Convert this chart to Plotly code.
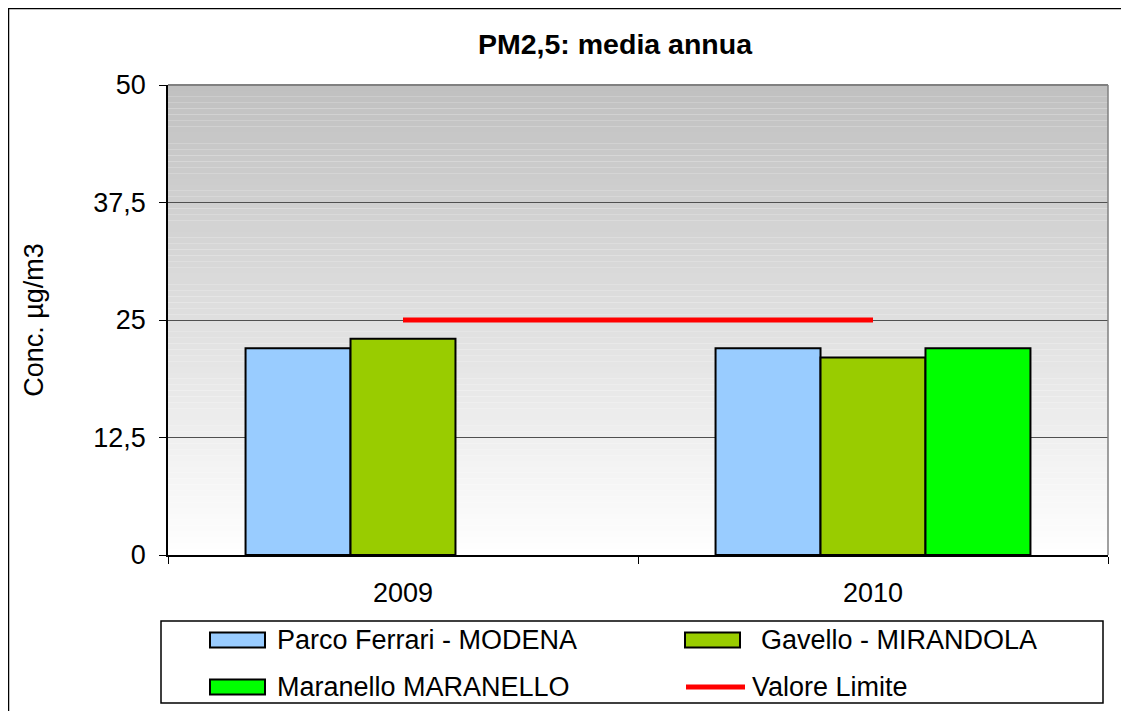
import plotly.graph_objects as go

years = ["2009", "2010"]
series_names = ["Parco Ferrari - MODENA", "Gavello - MIRANDOLA", "Maranello MARANELLO"]
parco_ferrari = [22, 22]
gavello = [23, 21]
maranello = [None, 22]
limit_name = "Valore Limite"
valore_limite = [25, 25]

y_ticks = [0, 12.5, 25, 37.5, 50]
y_ticktext = ["0", "12,5", "25", "37,5", "50"]

bar_colors = ["#99CCFF", "#99CC00", "#00FF00"]
FONT = "Liberation Sans, Arial, sans-serif"

# page body adds an 8px margin, so the figure is made 16px smaller than the window
W, H = 1113, 703
L, T, PW, PH = 160, 77, 940, 470


def px(x):  # figure pixel -> paper x
    return (x - L) / PW


def py(y):  # figure pixel -> paper y
    return (T + PH - y) / PH


fig = go.Figure()
for name, vals, col in zip(series_names, [parco_ferrari, gavello, maranello], bar_colors):
    fig.add_trace(go.Bar(x=years, y=vals, name=name,
                         marker=dict(color=col, line=dict(color="black", width=2))))
fig.add_trace(go.Scatter(x=years, y=valore_limite, name=limit_name, mode="lines",
                         line=dict(color="#FF0000", width=5)))

# gradient background of the plot area (grey on top, white at bottom), built from thin strips
n = 80
shapes = []
for i in range(n):
    t = (i + 0.5) / n
    g = int(round(255 - (255 - 192) * t))
    shapes.append(dict(type="rect", xref="x domain", yref="y domain", x0=0, x1=1,
                       y0=i / n, y1=(i + 1) / n, fillcolor=f"rgb({g},{g},{g})",
                       line=dict(width=0), layer="below"))
# grey frame on top and right of plot area
shapes.append(dict(type="line", xref="x domain", yref="y domain", x0=0, x1=1, y0=1, y1=1,
                   line=dict(color="#808080", width=2), layer="above"))
shapes.append(dict(type="line", xref="x domain", yref="y domain", x0=1, x1=1, y0=0, y1=1,
                   line=dict(color="#808080", width=1.5), layer="above"))
# outer chart border (only top and left visible in the crop)
shapes.append(dict(type="line", xref="paper", yref="paper", x0=px(0), x1=px(W), y0=py(0.5), y1=py(0.5),
                   line=dict(color="black", width=1.5)))
shapes.append(dict(type="line", xref="paper", yref="paper", x0=px(0.5), x1=px(0.5), y0=py(0), y1=py(H),
                   line=dict(color="black", width=1.5)))

# hand-drawn legend (wide rectangle keys, as in the original)
shapes.append(dict(type="rect", xref="paper", yref="paper", x0=px(153), x1=px(1095),
                   y0=py(613), y1=py(695), line=dict(color="black", width=1.5),
                   fillcolor="white", layer="below"))
annotations = []
legend_slots = [(202, 267, 632), (677, 751, 632), (202, 267, 679)]
for (sx, tx, cy), name, col in zip(legend_slots, series_names, bar_colors):
    shapes.append(dict(type="rect", xref="paper", yref="paper", x0=px(sx), x1=px(sx + 55),
                       y0=py(cy - 7.5), y1=py(cy + 7.5), fillcolor=col,
                       line=dict(color="black", width=2)))
    annotations.append(dict(text=name, xref="paper", yref="paper", x=px(tx), y=py(cy),
                            xanchor="left", yanchor="middle", showarrow=False,
                            font=dict(size=27)))
shapes.append(dict(type="line", xref="paper", yref="paper", x0=px(678), x1=px(737),
                   y0=py(679), y1=py(679), line=dict(color="#FF0000", width=5)))
annotations.append(dict(text=limit_name, xref="paper", yref="paper", x=px(742), y=py(679),
                        xanchor="left", yanchor="middle", showarrow=False,
                        font=dict(size=27)))

fig.update_layout(
    width=W, height=H,
    margin=dict(l=L, r=W - L - PW, t=T, b=H - T - PH, autoexpand=False),
    paper_bgcolor="white",
    plot_bgcolor="white",
    barmode="group",
    bargap=0.33,
    bargroupgap=0,
    showlegend=False,
    shapes=shapes,
    annotations=annotations,
    font=dict(family=FONT, size=27, color="black"),
    title=dict(text="<b>PM2,5: media annua</b>", x=(607 / W), xanchor="center",
               y=1 - 36 / H, yanchor="middle", font=dict(family=FONT, size=28.5, color="black")),
    xaxis=dict(type="category", tickson="boundaries", ticks="outside", ticklen=7,
               tickcolor="black", showline=True, linecolor="black", linewidth=1.5,
               showgrid=False, tickfont=dict(size=27), ticklabelstandoff=13),
    yaxis=dict(range=[0, 50], tickvals=y_ticks, ticktext=y_ticktext, ticks="outside",
               ticklen=7, tickcolor="black", showline=True, linecolor="black", linewidth=1.5,
               showgrid=True, gridcolor="#505050", gridwidth=1, zeroline=False,
               tickfont=dict(size=27), ticklabelstandoff=8,
               title=dict(text="Conc. µg/m3", font=dict(size=27), standoff=42)),
)

fig.write_html("out.html")
